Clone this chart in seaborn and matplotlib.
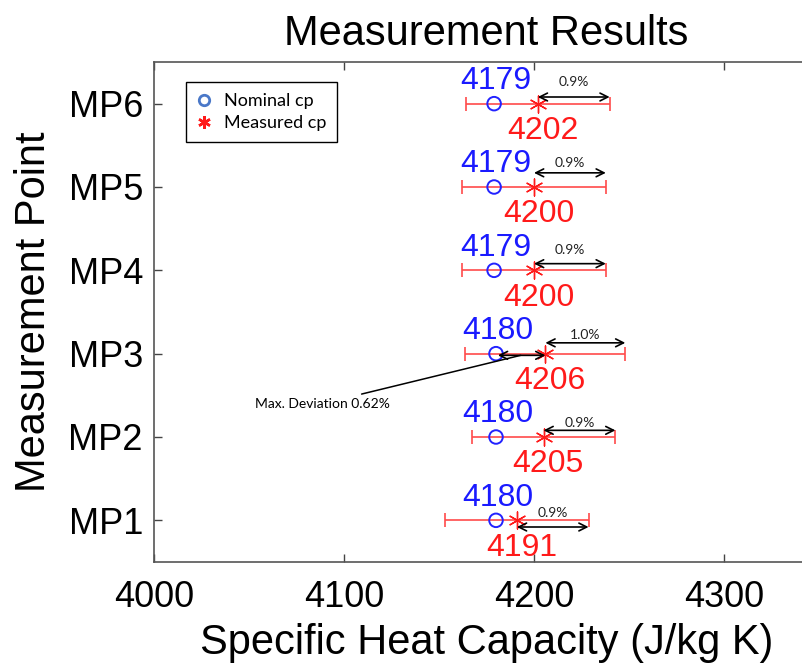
import numpy as np
import pandas as pd
import matplotlib
matplotlib.use("Agg")
import matplotlib.pyplot as plt
from matplotlib.lines import Line2D
import seaborn as sns

# ---------------- data ----------------
points = ["MP1", "MP2", "MP3", "MP4", "MP5", "MP6"]
nominal_cp = [4180, 4180, 4180, 4179, 4179, 4179]
measured_cp = [4191, 4205, 4206, 4200, 4200, 4202]
uncertainty_pct = [0.9, 0.9, 1.0, 0.9, 0.9, 0.9]
xticks = [4000, 4100, 4200, 4300]

# ---------------- layout (vertical offsets in y units) ----------------
arrow_dy = [-0.08, 0.08, 0.13, 0.08, 0.17, 0.08]
pct_dy = [0.09, 0.17, 0.22, 0.24, 0.29, 0.26]

sns.set_style("ticks")
plt.rcParams["font.family"] = ["Liberation Sans", "DejaVu Sans"]
plt.rcParams["text.color"] = "black"
plt.rcParams["axes.labelcolor"] = "black"

fig = plt.figure(figsize=(8.02, 6.68), dpi=100)
ax = fig.add_axes([154 / 802, 106 / 668, 665 / 802, 500 / 668])

ypos = np.arange(1, len(points) + 1)
df = pd.DataFrame({"point": points, "y": ypos, "nominal": nominal_cp,
                   "measured": measured_cp, "pct": uncertainty_pct})
df["err"] = df["measured"] * df["pct"] / 100.0

ax.errorbar(df["measured"], df["y"], xerr=df["err"], fmt="none",
            ecolor="#ff4a4a", elinewidth=1.2, capsize=5, capthick=1.2, zorder=2)

sns.scatterplot(data=df, x="nominal", y="y", ax=ax, marker="o", s=95,
                facecolor="none", edgecolor="#2222ff", linewidth=1.4,
                legend=False, zorder=3)
sns.scatterplot(data=df, x="measured", y="y", ax=ax, marker=(6, 2, 0), s=150,
                color="#ff1a1a", edgecolor="#ff1a1a", linewidth=1.0,
                legend=False, zorder=4)

for i, r in df.iterrows():
    y = r["y"]
    ax.text(r["nominal"] + 1, y + 0.27, f"{int(r['nominal'])}", color="#1a1aff",
            fontsize=23, ha="center", va="center", zorder=5)
    ax.text(r["measured"] + 2.5, y - 0.33, f"{int(r['measured'])}", color="#ff1a1a",
            fontsize=23, ha="center", va="center", zorder=5)
    x0 = r["measured"]
    x1 = r["measured"] + r["err"]
    ya = y + arrow_dy[i]
    ax.annotate("", xy=(x1, ya), xytext=(x0, ya),
                arrowprops=dict(arrowstyle="<->", color="black", lw=1.2,
                                shrinkA=0, shrinkB=0, mutation_scale=14), zorder=6)
    ax.text((x0 + x1) / 2, y + pct_dy[i], f"{r['pct']:.1f}%", fontsize=10,
            family=["Lato", "DejaVu Sans"], color="#222222",
            ha="center", va="center", zorder=6)

# maximum deviation
dev = (df["measured"] - df["nominal"]) / df["nominal"] * 100
k = int(dev.idxmax())
yk = df.loc[k, "y"] - 0.02
ax.annotate("", xy=(df.loc[k, "measured"], yk), xytext=(df.loc[k, "nominal"] + 1, yk),
            arrowprops=dict(arrowstyle="<->", color="black", lw=1.2,
                            shrinkA=0, shrinkB=0, mutation_scale=14), zorder=6)
ax.annotate(f"Max. Deviation {dev[k]:.2f}%",
            xy=((df.loc[k, "measured"] + df.loc[k, "nominal"]) / 2, yk),
            xytext=(4124, df.loc[k, "y"] - 0.6), fontsize=10,
            family=["Lato", "DejaVu Sans"], ha="right", va="center",
            arrowprops=dict(arrowstyle="-", color="black", lw=1.1,
                            shrinkA=1, shrinkB=0), zorder=6)

ax.set_xlim(4000, 4350)
ax.set_ylim(0.5, 6.5)
ax.set_xticks(xticks)
ax.set_xticklabels([str(t) for t in xticks])
ax.set_yticks(ypos)
ax.set_yticklabels(points)
ax.tick_params(axis="x", direction="in", top=True, length=6, width=1,
               labelsize=26, pad=13, colors="#444444", labelcolor="black")
ax.tick_params(axis="y", direction="in", length=6, width=1,
               labelsize=26, pad=8, colors="#444444", labelcolor="black")
for s in ax.spines.values():
    s.set_color("#555555")
    s.set_linewidth(1.2)

ax.set_xlabel("Specific Heat Capacity (J/kg K)", fontsize=30, labelpad=6, color="black")
ax.set_ylabel("Measurement Point", fontsize=30, labelpad=10, color="black")
ax.set_title("Measurement Results", fontsize=30, pad=12, color="black")

handles = [
    Line2D([], [], linestyle="none", marker="o", markersize=7.5,
           markerfacecolor="none", markeredgecolor="#4a78c8", markeredgewidth=2.0),
    Line2D([], [], linestyle="none", marker=(6, 2, 0), markersize=9,
           color="#ff1a1a", markeredgewidth=1.8),
]
leg = ax.legend(handles, ["Nominal cp", "Measured cp"], loc="upper left",
                bbox_to_anchor=(0.048, 0.96), borderaxespad=0, frameon=True,
                fancybox=False, edgecolor="black", framealpha=1,
                prop={"family": ["Lato", "DejaVu Sans"], "size": 13},
                handlelength=0.8, handletextpad=0.7, borderpad=0.6,
                labelspacing=0.35)
leg.get_frame().set_linewidth(1.0)

fig.savefig("out.png", dpi=100)
